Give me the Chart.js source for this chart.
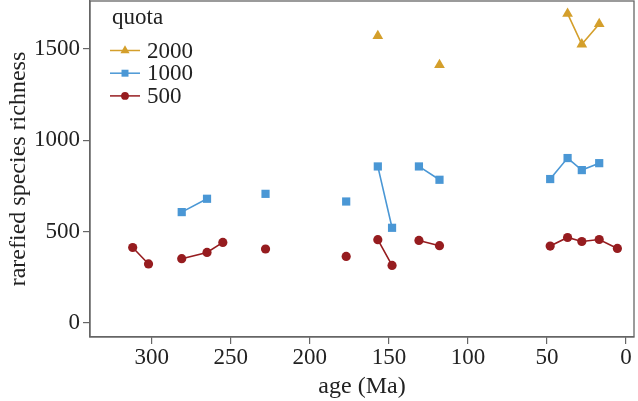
<!DOCTYPE html>
<html>
<head>
<meta charset="utf-8">
<script src="https://cdn.jsdelivr.net/npm/chart.js@4.4.1/dist/chart.umd.min.js"></script>
<style>
  html, body { margin: 0; padding: 0; background: #fff; }
  #wrap { width: 638px; height: 401px; }
</style>
</head>
<body>
<div id="wrap"><canvas id="chart"></canvas></div>
<script>
// ages (Ma); null = break between stratigraphic bins
const ages = [312, 302, null, 281, 265, 255, null, 228, null, 177, null, 157, 148, null, 131, 118, null, 48, 37, 28, 17, 5.5];
const quota500  = [413, 323, null, 352, 386, 441, null, 405, null, 364, null, 456, 315, null, 452, 423, null, 421, 468, 446, 457, 408];
const quota1000 = [null, null, null, 607, 680, null, null, 707, null, 665, null, 857, 521, null, 857, 784, null, 788, 903, 837, 875, null];
const quota2000 = [null, null, null, null, null, null, null, null, null, null, null, 1572, null, null, null, 1413, null, null, 1694, 1526, 1637, null];
const xTicks = [0, 50, 100, 150, 200, 250, 300];
const yTicks = [0, 500, 1000, 1500];

const GOLD = '#d49f2b';
const BLUE = '#4a97d5';
const RED = '#961c1f';
const AXIS = '#666666';
const TEXT = '#222222';
const FONT = "'Liberation Serif', 'DejaVu Serif', serif";

function toPoints(vals) {
    return ages.map((a, i) => ({ x: a, y: vals[i] }));
}

const series = [
    { label: '2000', data: quota2000, color: GOLD, style: 'triangle', radius: 6.2 },
    { label: '1000', data: quota1000, color: BLUE, style: 'rect', radius: 5.8 },
    { label: '500', data: quota500, color: RED, style: 'circle', radius: 4.6 }
];

// box round the plot + legend, drawn by hand
const framePlugin = {
    id: 'frame',
    afterDraw(chart) {
        const { ctx, chartArea: a } = chart;
        ctx.save();
        ctx.strokeStyle = AXIS;
        ctx.lineWidth = 1.3;
        ctx.strokeRect(a.left, a.top, a.right - a.left, a.bottom - a.top);

        ctx.fillStyle = TEXT;
        ctx.font = '23px ' + FONT;
        ctx.textBaseline = 'middle';
        ctx.textAlign = 'left';
        ctx.fillText('quota', 112, 18);
        series.forEach((s, i) => {
            const y = 50.5 + i * 22.7;
            ctx.strokeStyle = s.color;
            ctx.lineWidth = 1.5;
            ctx.beginPath();
            ctx.moveTo(110, y);
            ctx.lineTo(140, y);
            ctx.stroke();
            ctx.fillStyle = s.color;
            Chart.helpers.drawPoint(ctx, { pointStyle: s.style, radius: s.radius * 0.85, rotation: 0, borderWidth: 0 }, 125, y);
            ctx.fillStyle = TEXT;
            ctx.fillText(s.label, 147, y + 1);
        });
        ctx.restore();
    }
};

new Chart(document.getElementById('chart'), {
    type: 'line',
    data: {
        datasets: series.map(s => ({
            label: s.label,
            data: toPoints(s.data),
            borderColor: s.color,
            backgroundColor: s.color,
            pointBackgroundColor: s.color,
            pointBorderColor: s.color,
            pointBorderWidth: 0,
            pointStyle: s.style,
            pointRadius: s.radius,
            borderWidth: 1.6,
            spanGaps: false,
            tension: 0
        }))
    },
    options: {
        responsive: true,
        maintainAspectRatio: false,
        animation: false,
        layout: { autoPadding: false, padding: { top: 1, right: 4, left: 0, bottom: 0 } },
        plugins: {
            legend: { display: false },
            tooltip: { enabled: false }
        },
        scales: {
            x: {
                type: 'linear',
                reverse: true,
                min: -5,
                max: 339,
                afterBuildTicks: (axis) => { axis.ticks = xTicks.map(v => ({ value: v })); },
                afterFit: (axis) => {
                    axis.height = 64;
                    axis.paddingLeft = 0;
                    axis.paddingRight = 0;
                },
                grid: { display: true, drawOnChartArea: false, drawTicks: true, tickLength: 7, color: AXIS, lineWidth: 1.2 },
                border: { display: true, color: AXIS, width: 1.3 },
                ticks: { color: TEXT, font: { family: FONT, size: 23 }, padding: 0, maxRotation: 0, callback: (v) => String(v) },
                title: { display: true, text: 'age (Ma)', color: TEXT, font: { family: FONT, size: 24 }, padding: { top: -3, bottom: 0 } }
            },
            y: {
                min: -77,
                max: 1763,
                afterBuildTicks: (axis) => { axis.ticks = yTicks.map(v => ({ value: v })); },
                afterFit: (axis) => {
                    axis.width = 90;
                    axis.paddingTop = 0;
                    axis.paddingBottom = 0;
                },
                grid: { display: true, drawOnChartArea: false, drawTicks: true, tickLength: 7, color: AXIS, lineWidth: 1.2 },
                border: { display: true, color: AXIS, width: 1.3 },
                ticks: { color: TEXT, font: { family: FONT, size: 23 }, padding: 3, callback: (v) => String(v) },
                title: { display: true, text: 'rarefied species richness', color: TEXT, font: { family: FONT, size: 24 }, padding: { top: 4, bottom: 0 } }
            }
        }
    },
    plugins: [framePlugin]
});
</script>
</body>
</html>
